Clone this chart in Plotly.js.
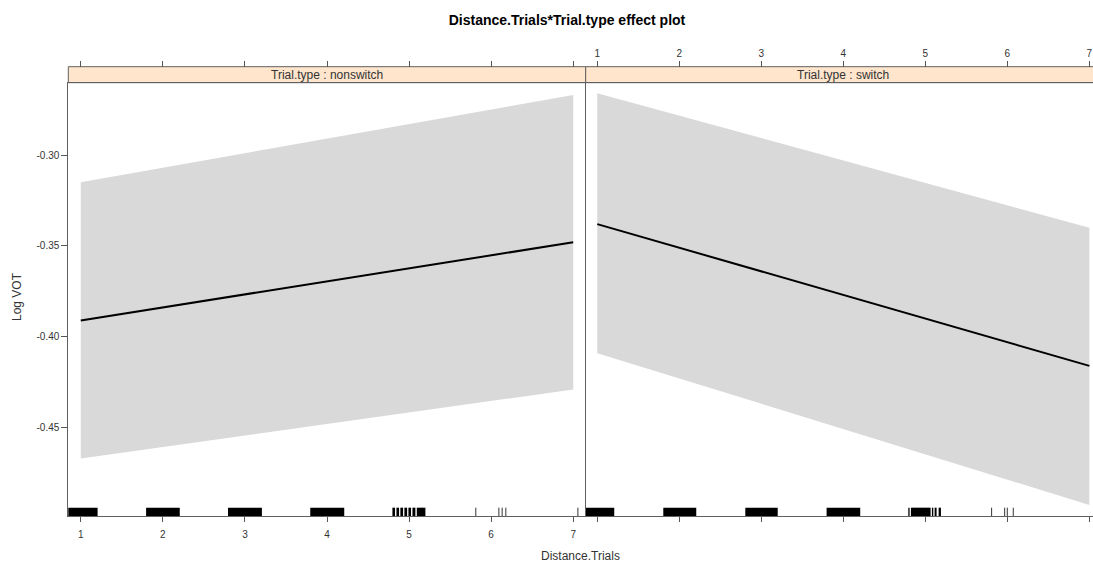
<!DOCTYPE html>
<html>
<head>
<meta charset="utf-8">
<script src="https://cdn.plot.ly/plotly-3.0.1.min.js"></script>
<style>html,body{margin:0;padding:0;background:#fff;}#chart{width:1093px;height:566px;}</style>
</head>
<body>
<div id="chart"></div>
<script>
// ---- data ----
var panels = ["nonswitch", "switch"];
var xTicks = [1, 2, 3, 4, 5, 6, 7];
var xTickText = ["1", "2", "3", "4", "5", "6", "7"];
var yTicks = [-0.45, -0.40, -0.35, -0.30];
var yTickText = ["-0.45", "-0.40", "-0.35", "-0.30"];

var distance = [1, 2, 3, 4, 5, 6, 7];
// nonswitch
var fitNonswitch   = [-0.391, -0.3838, -0.3767, -0.3695, -0.3623, -0.3552, -0.348];
var upperNonswitch = [-0.315, -0.307, -0.299, -0.291, -0.283, -0.275, -0.267];
var lowerNonswitch = [-0.467, -0.4607, -0.4543, -0.448, -0.4417, -0.4353, -0.429];
// switch
var fitSwitch   = [-0.338, -0.351, -0.364, -0.377, -0.390, -0.403, -0.416];
var upperSwitch = [-0.266, -0.2783, -0.2907, -0.303, -0.3153, -0.3277, -0.340];
var lowerSwitch = [-0.409, -0.4229, -0.4368, -0.4508, -0.4647, -0.4786, -0.4925];

// rug: dense stretches (start, end) and single marks
var rugBlockStartNonswitch = [0.80, 1.796, 2.794, 3.796, 4.797, 4.846, 4.894, 4.943, 4.992, 5.041, 5.094];
var rugBlockEndNonswitch   = [1.205, 2.206, 3.207, 4.210, 4.829, 4.878, 4.927, 4.976, 5.024, 5.077, 5.199];
var rugMarksNonswitch = [5.813, 6.094, 6.134, 6.179, 7.057];

var rugBlockStartSwitch = [0.80, 1.805, 2.805, 3.796, 4.792, 4.824, 5.080, 5.113, 5.162];
var rugBlockEndSwitch   = [1.207, 2.207, 3.200, 4.206, 4.808, 5.064, 5.097, 5.137, 5.190];
var rugMarksSwitch = [5.808, 5.967, 5.999, 6.072];

var rugHeight = 0.0192;

// ---- build traces ----
function bandTrace(xs, up, lo, xa, ya) {
  return {
    type: "scatter", mode: "lines", xaxis: xa, yaxis: ya,
    x: xs.concat(xs.slice().reverse()),
    y: up.concat(lo.slice().reverse()),
    fill: "toself", fillcolor: "#d9d9d9",
    line: {width: 0, color: "#d9d9d9"}, hoverinfo: "skip"
  };
}
function fitTrace(xs, ys, xa, ya) {
  return {type: "scatter", mode: "lines", xaxis: xa, yaxis: ya, x: xs, y: ys,
          line: {color: "#000", width: 2}};
}
function rugBlocks(starts, ends, xa, ya) {
  var xc = [], w = [], h = [];
  for (var i = 0; i < starts.length; i++) {
    xc.push((starts[i] + ends[i]) / 2);
    w.push(ends[i] - starts[i]);
    h.push(rugHeight);
  }
  return {type: "bar", xaxis: xa, yaxis: ya, x: xc, y: h, base: 0, width: w,
          marker: {color: "#000", line: {width: 0}}, hoverinfo: "skip"};
}
function rugMarks(marks, xa, ya) {
  var xs = [], ys = [];
  marks.forEach(function (m) { xs.push(m, m, null); ys.push(0, rugHeight, null); });
  return {type: "scatter", mode: "lines", xaxis: xa, yaxis: ya, x: xs, y: ys,
          line: {color: "#333", width: 1}, hoverinfo: "skip"};
}

var traces = [
  bandTrace(distance, upperNonswitch, lowerNonswitch, "x", "y"),
  fitTrace(distance, fitNonswitch, "x", "y"),
  bandTrace(distance, upperSwitch, lowerSwitch, "x2", "y2"),
  fitTrace(distance, fitSwitch, "x2", "y2"),
  rugBlocks(rugBlockStartNonswitch, rugBlockEndNonswitch, "x3", "y3"),
  rugMarks(rugMarksNonswitch, "x3", "y3"),
  rugBlocks(rugBlockStartSwitch, rugBlockEndSwitch, "x4", "y4"),
  rugMarks(rugMarksSwitch, "x4", "y4")
];

// ---- layout ----
var W = 1093, H = 566;
var font = "Liberation Sans, Arial, sans-serif";
var lineCol = "#606060";
var xL0 = 68.3 / W, xMid = 585.7 / W;
var yBot = 1 - 516 / H, yTop = 1 - 82.7 / H, stripTop = 1 - 66.7 / H;
var xRangeL = [0.848, 7.152], xRangeR = [0.859, 7.044], yRange = [-0.4986, -0.2602];

var tickFont = {family: font, size: 10, color: "#333"};
var baseX = {showgrid: false, zeroline: false, tickvals: xTicks, ticktext: xTickText,
             ticks: "outside", ticklen: 5, tickcolor: "#555", tickfont: tickFont};

var layout = {
  width: W, height: H,
  margin: {l: 0, r: 0, t: 0, b: 0},
  paper_bgcolor: "#fff", plot_bgcolor: "#fff",
  showlegend: false, barmode: "overlay",
  font: {family: font, color: "#333"},
  title: {text: "<b>Distance.Trials*Trial.type effect plot</b>",
          font: {family: font, size: 14, color: "#000"},
          x: 567 / W, xanchor: "center", xref: "container",
          y: 1 - 20 / H, yanchor: "middle", yref: "container"},
  xaxis: Object.assign({}, baseX, {domain: [xL0, xMid], range: xRangeL, anchor: "y",
          ticklabelstandoff: 4,
          showline: true, linecolor: lineCol, linewidth: 1, mirror: true}),
  yaxis: {domain: [yBot, yTop], range: yRange, anchor: "x", showgrid: false, zeroline: false,
          tickvals: yTicks, ticktext: yTickText, ticks: "outside", ticklen: 6, tickcolor: "#555",
          tickfont: tickFont, showline: true, linecolor: lineCol, linewidth: 1},
  xaxis2: Object.assign({}, baseX, {domain: [xMid, 1], range: xRangeR, anchor: "y2",
          showticklabels: false, showline: true, linecolor: lineCol, linewidth: 1, mirror: true}),
  yaxis2: {domain: [yBot, yTop], range: yRange, anchor: "x2", showgrid: false, zeroline: false,
          showticklabels: false, ticks: "", showline: true, linecolor: lineCol, linewidth: 1},
  xaxis3: Object.assign({}, baseX, {overlaying: "x", range: xRangeL, side: "top",
          anchor: "free", position: stripTop, showticklabels: false, ticklen: 6, showline: false}),
  yaxis3: {overlaying: "y", range: [0, 1], visible: false, anchor: "x3"},
  xaxis4: Object.assign({}, baseX, {overlaying: "x2", range: xRangeR, side: "top",
          anchor: "free", position: stripTop, showticklabels: true, ticklen: 6, showline: false}),
  yaxis4: {overlaying: "y2", range: [0, 1], visible: false, anchor: "x4"},
  shapes: [
    {type: "rect", xref: "paper", yref: "paper", x0: xL0, x1: xMid, y0: yTop, y1: stripTop,
     fillcolor: "#ffe5cc", line: {color: lineCol, width: 1}, layer: "below"},
    {type: "rect", xref: "paper", yref: "paper", x0: xMid, x1: 1.01, y0: yTop, y1: stripTop,
     fillcolor: "#ffe5cc", line: {color: lineCol, width: 1}, layer: "below"}
  ],
  annotations: [
    {text: "Trial.type : " + panels[0], xref: "x", x: 4, yref: "paper", y: (yTop + stripTop) / 2,
     showarrow: false, xanchor: "center", yanchor: "middle", font: {family: font, size: 12, color: "#333"}},
    {text: "Trial.type : " + panels[1], xref: "x2", x: 4, yref: "paper", y: (yTop + stripTop) / 2,
     showarrow: false, xanchor: "center", yanchor: "middle", font: {family: font, size: 12, color: "#333"}},
    {text: "Log VOT", xref: "paper", yref: "paper", x: 17 / W, y: 1 - 297 / H, textangle: -90,
     showarrow: false, xanchor: "center", yanchor: "middle", font: {family: font, size: 12, color: "#333"}},
    {text: "Distance.Trials", xref: "paper", yref: "paper", x: 580 / W, y: 1 - 556 / H,
     showarrow: false, xanchor: "center", yanchor: "middle", font: {family: font, size: 12, color: "#333"}}
  ]
};

Plotly.newPlot("chart", traces, layout, {staticPlot: true, displayModeBar: false});
</script>
</body>
</html>
